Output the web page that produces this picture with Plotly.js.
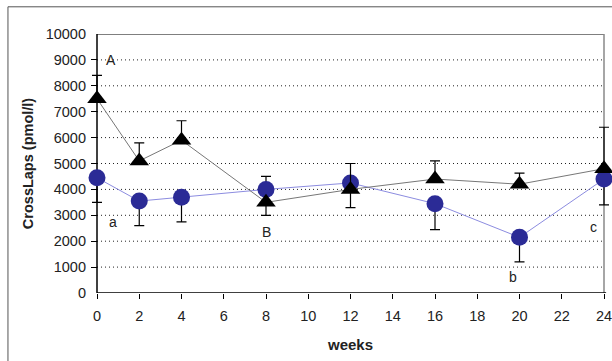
<!DOCTYPE html>
<html><head><meta charset="utf-8">
<script src="https://cdn.plot.ly/plotly-3.0.1.min.js"></script>
<style>html,body{margin:0;padding:0;background:#fff;}#chart{width:612px;height:361px;}</style>
</head><body><div id="chart"></div>
<script>
const weeks = [0, 2, 4, 8, 12, 16, 20, 24];
const triangleValues = [7500, 5100, 5900, 3500, 4000, 4400, 4200, 4800];
const triangleErrUp = [900, 700, 750, 0, 1000, 700, 430, 1600];
const triangleErrDown = [0, 0, 0, 500, 0, 0, 0, 0];
const circleValues = [4450, 3550, 3700, 4000, 4250, 3450, 2150, 4400];
const circleErrUp = [0, 0, 0, 500, 0, 0, 0, 0];
const circleErrDown = [950, 950, 950, 0, 950, 1000, 950, 1000];
const letterText = ['A', 'a', 'B', 'b', 'c'];
const letterX = [0.65, 0.75, 8, 19.7, 23.5];
const letterY = [9000, 2750, 2350, 620, 2550];
const xTicks = [0, 2, 4, 6, 8, 10, 12, 14, 16, 18, 20, 22, 24];
const yTicks = [0, 1000, 2000, 3000, 4000, 5000, 6000, 7000, 8000, 9000, 10000];
const gridLevels = [1000, 2000, 3000, 4000, 5000, 6000, 7000, 8000, 9000];

const font = 'Liberation Sans, Arial, sans-serif';
const pad = 6 / 21.125;
const traces = [
  {x: weeks, y: circleValues, mode: 'lines+markers', type: 'scatter',
   line: {color: '#8c8ce0', width: 1},
   marker: {symbol: 'circle', size: 17, color: '#2b2b96'},
   error_y: {type: 'data', symmetric: false, array: circleErrUp, arrayminus: circleErrDown,
             color: '#000', thickness: 1.2, width: 5},
   showlegend: false, cliponaxis: false},
  {x: weeks, y: triangleValues, mode: 'lines+markers', type: 'scatter',
   line: {color: '#777', width: 1},
   marker: {symbol: 'triangle-up', size: 17, color: '#000'},
   error_y: {type: 'data', symmetric: false, array: triangleErrUp, arrayminus: triangleErrDown,
             color: '#000', thickness: 1.2, width: 5},
   showlegend: false, cliponaxis: false}
];

const annotations = letterText.map((t, i) => ({
  x: letterX[i], y: letterY[i], xref: 'x', yref: 'y', text: t, showarrow: false,
  font: {family: font, size: 14, color: '#222'}, xanchor: 'center', yanchor: 'middle'
}));

const shapes = gridLevels.map(v => ({type: 'line', xref: 'x', yref: 'y', x0: 0, x1: 24, y0: v, y1: v,
  line: {color: '#222', width: 1, dash: '1px,3px'}, layer: 'below'}));
shapes.push(
  {type: 'line', xref: 'x', yref: 'y', x0: 0, x1: 24, y0: 10000, y1: 10000, line: {color: '#000', width: 1.2}, layer: 'below'},
  {type: 'line', xref: 'x', yref: 'y', x0: 24, x1: 24, y0: 0, y1: 10000, line: {color: '#888', width: 1.5}, layer: 'below'},
  {type: 'line', xref: 'x', yref: 'y', x0: 0, x1: 0, y0: 0, y1: 10000, line: {color: '#000', width: 1.5}, layer: 'below'},
  {type: 'line', xref: 'x', yref: 'y', x0: 0, x1: 24.1, y0: 0, y1: 0, line: {color: '#000', width: 1.5}, layer: 'below'},
  {type: 'line', xref: 'paper', yref: 'paper', x0: -0.16, x1: 1.2, y0: 1.105, y1: 1.105, line: {color: '#555', width: 1}},
  {type: 'line', xref: 'paper', yref: 'paper', x0: -0.16, x1: -0.16, y0: 1.105, y1: -0.5, line: {color: '#555', width: 1}}
);

const layout = {
  width: 612, height: 361,
  margin: {l: 91, r: 2, t: 34, b: 68},
  paper_bgcolor: '#fff', plot_bgcolor: '#fff',
  font: {family: font, color: '#222', size: 13},
  xaxis: {range: [-pad, 24 + pad], tickvals: xTicks, ticktext: xTicks.map(String),
          showgrid: false, zeroline: false, showline: false,
          ticks: 'outside', ticklen: 5, tickcolor: '#000', tickwidth: 1, tickfont: {size: 14.5, color: '#222'},
          ticklabelstandoff: 5, ticklabeloverflow: 'allow',
          title: {text: '<b>weeks</b>', font: {size: 15, color: '#222'}, standoff: 16}},
  yaxis: {range: [0, 10000], tickvals: yTicks, ticktext: yTicks.map(String),
          showgrid: false, zeroline: false, showline: false,
          ticks: 'inside', ticklen: 6, tickcolor: '#000', tickwidth: 1, tickfont: {size: 14.5, color: '#222'},
          ticklabelstandoff: 4, ticklabeloverflow: 'allow',
          title: {text: '<b>CrossLaps (pmol/l)</b>', font: {size: 14.5, color: '#222'}, standoff: 8}},
  annotations: annotations,
  shapes: shapes
};
Plotly.newPlot('chart', traces, layout, {displayModeBar: false, staticPlot: true});
</script></body></html>
